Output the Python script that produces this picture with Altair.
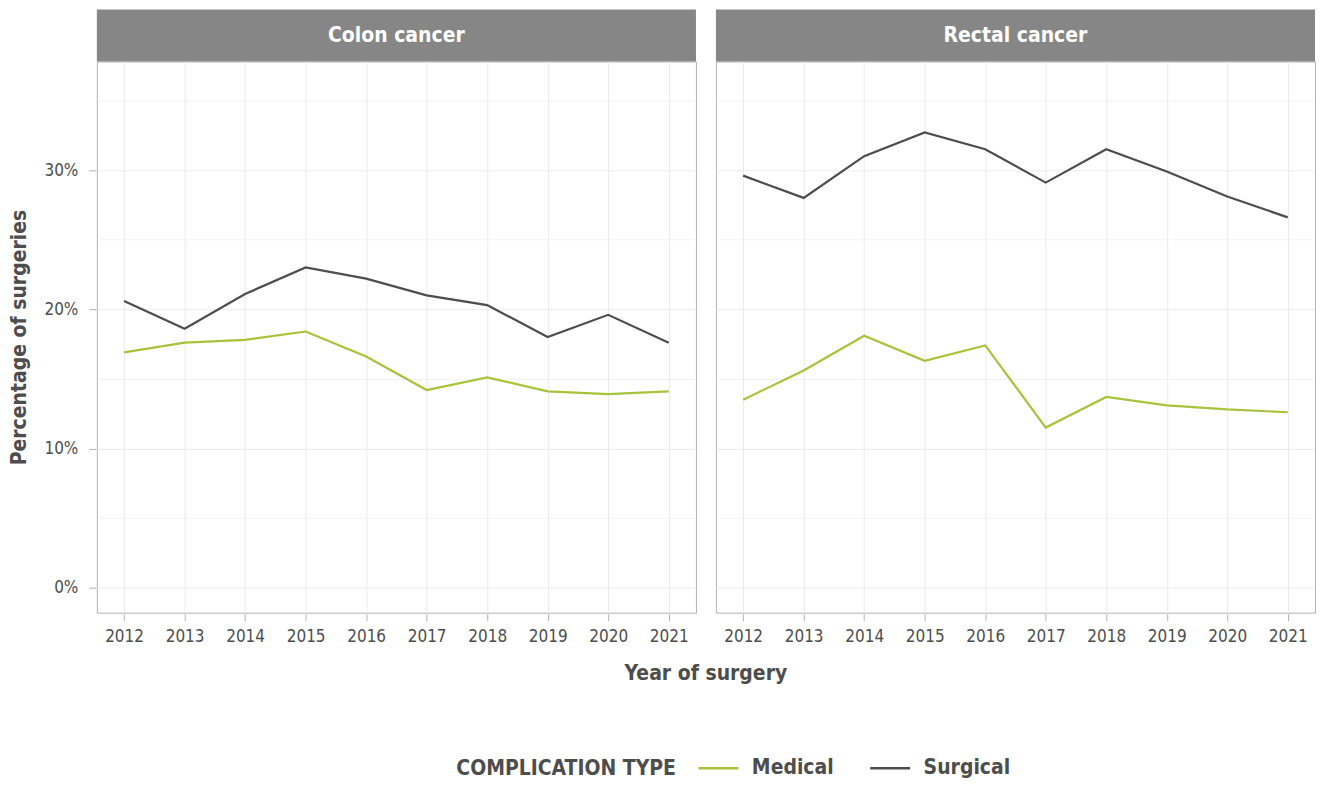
import altair as alt
import pandas as pd

# Complication rates (% of surgeries) by year and cancer site
years = [2012, 2013, 2014, 2015, 2016, 2017, 2018, 2019, 2020, 2021]
colon_medical = [16.9, 17.6, 17.8, 18.4, 16.6, 14.2, 15.1, 14.1, 13.9, 14.1]
colon_surgical = [20.6, 18.6, 21.1, 23.0, 22.2, 21.0, 20.3, 18.0, 19.6, 17.6]
rectal_medical = [13.5, 15.6, 18.1, 16.3, 17.4, 11.5, 13.7, 13.1, 12.8, 12.6]
rectal_surgical = [29.6, 28.0, 31.0, 32.7, 31.5, 29.1, 31.5, 29.9, 28.1, 26.6]

sites = ["Colon cancer", "Rectal cancer"]
types = ["Medical", "Surgical"]
colors = ["#a6c43a", "#4d4d4d"]

rows = []
for site, med, surg in [
    ("Colon cancer", colon_medical, colon_surgical),
    ("Rectal cancer", rectal_medical, rectal_surgical),
]:
    for y, m, s in zip(years, med, surg):
        rows.append({"site": site, "year": y, "type": "Medical", "pct": m})
        rows.append({"site": site, "year": y, "type": "Surgical", "pct": s})
df = pd.DataFrame(rows)

FONT = "'Liberation Sans Narrow', 'DejaVu Sans Condensed', 'Roboto', sans-serif"
TEXT = "#4d4d4d"
PANEL_W, PANEL_H, STRIP_H = 600, 552, 52

# major + minor grid positions, only majors get ticks/labels
x_vals = [y + h for y in years for h in (0, 0.5)][:-1]
y_vals = [0, 5, 10, 15, 20, 25, 30, 35]

lines = alt.Chart().mark_line(strokeWidth=2.2).encode(
    x=alt.X(
        "year:Q",
        scale=alt.Scale(domain=[2011.55, 2021.45], nice=False, zero=False),
        axis=alt.Axis(
            values=x_vals,
            format="d",
            labelExpr="datum.value % 1 === 0 ? datum.label : ''",
            title=None,
            domain=False,
            labelPadding=8,
            tickColor={"condition": {"test": "datum.value % 1 === 0", "value": "#b3b3b3"},
                       "value": "rgba(0,0,0,0)"},
            gridWidth={"condition": {"test": "datum.value % 1 === 0", "value": 1},
                       "value": 0.6},
        ),
    ),
    y=alt.Y(
        "pct:Q",
        scale=alt.Scale(domain=[-1.8, 37.8], nice=False, zero=False),
        axis=alt.Axis(
            values=y_vals,
            labelExpr="datum.value % 10 === 0 ? datum.value + '%' : ''",
            title="Percentage of surgeries",
            domain=False,
            labelPadding=11,
            titlePadding=14,
            tickColor={"condition": {"test": "datum.value % 10 === 0", "value": "#b3b3b3"},
                       "value": "rgba(0,0,0,0)"},
            gridWidth={"condition": {"test": "datum.value % 10 === 0", "value": 1},
                       "value": 0.6},
        ),
    ),
    color=alt.Color(
        "type:N",
        scale=alt.Scale(domain=types, range=colors),
        legend=alt.Legend(
            title="COMPLICATION TYPE",
            orient="none",
            direction="horizontal",
            titleOrient="left",
            titleBaseline="line-top",
            titleLineHeight=13,
            titleLimit=500,
            legendX=360,
            legendY=686,
        ),
    ),
)

# grey strip above each panel with the site name
strip = alt.Chart().mark_rect(color="#858685").encode(
    x=alt.value(0), x2=alt.value(PANEL_W),
    y=alt.value(-STRIP_H), y2=alt.value(0),
).transform_filter("datum.year === 2012 && datum.type === 'Medical'")

strip_text = alt.Chart().mark_text(
    color="white", fontWeight="bold", fontSize=21, baseline="middle", align="center", font=FONT
).encode(
    x=alt.value(PANEL_W / 2), y=alt.value(-STRIP_H / 2), text="site:N",
).transform_filter("datum.year === 2012 && datum.type === 'Medical'")

chart = alt.layer(lines, strip, strip_text, data=df).properties(
    width=PANEL_W, height=PANEL_H
).facet(
    column=alt.Column(
        "site:N",
        sort=sites,
        header=alt.Header(
            labels=False,
            title="Year of surgery",
            titleOrient="bottom",
            titleFont=FONT,
            titleFontSize=21,
            titleFontWeight="bold",
            titleColor=TEXT,
            titlePadding=8,
        ),
    ),
    spacing=18,
).properties(
    padding={"top": 8, "left": 9, "right": 6, "bottom": 10},
    background="white",
).configure_view(
    stroke="#b3b3b3", strokeWidth=1
).configure_axis(
    labelFont=FONT, titleFont=FONT,
    labelFontSize=17, labelColor=TEXT, labelFontWeight="normal",
    titleFontSize=21, titleColor=TEXT, titleFontWeight="bold",
    gridColor="#ebebeb", tickSize=7,
).configure_legend(
    labelFont=FONT, titleFont=FONT,
    labelFontSize=21, labelFontWeight="bold", labelColor=TEXT,
    titleFontSize=21, titleFontWeight="bold", titleColor=TEXT,
    symbolType="stroke", symbolSize=1600, symbolStrokeWidth=2.5,
    columnPadding=30, titlePadding=20, labelOffset=12,
)

chart.save("out.html", embed_options={"renderer": "svg", "actions": False})
